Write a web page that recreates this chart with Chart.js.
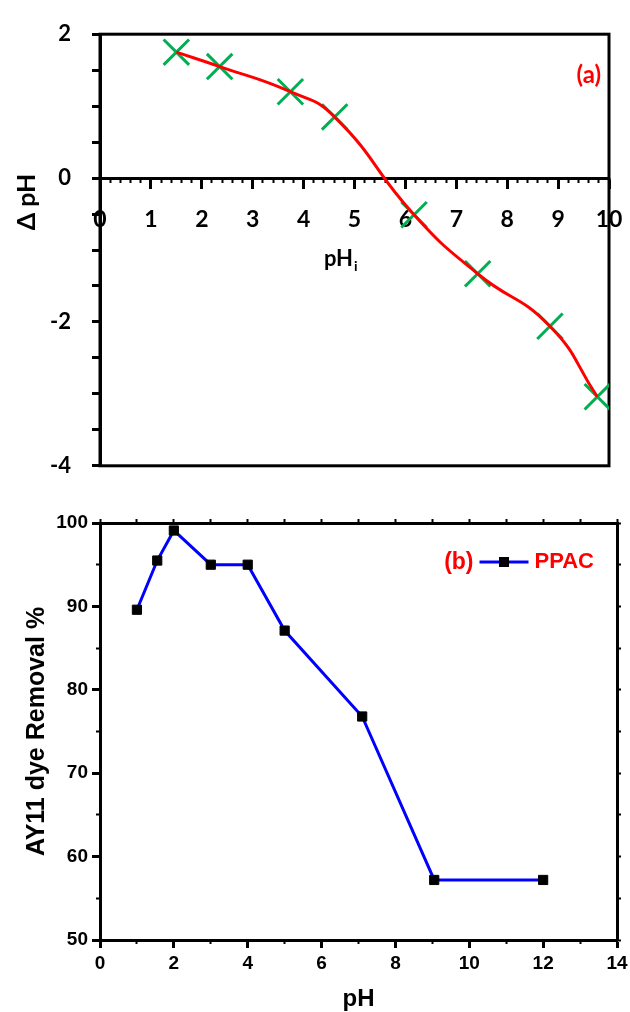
<!DOCTYPE html>
<html>
<head>
<meta charset="utf-8">
<script src="https://cdn.jsdelivr.net/npm/chart.js@4.4.1/dist/chart.umd.min.js"></script>
<style>
  html, body { margin: 0; padding: 0; background: #fff; }
  #wrap { position: relative; width: 630px; height: 1012px; }
  #chartA { position: absolute; left: 0; top: 0; }
  #chartB { position: absolute; left: 0; top: 500px; }
</style>
</head>
<body>
<div id="wrap">
  <canvas id="chartA" width="630" height="500"></canvas>
  <canvas id="chartB" width="630" height="512"></canvas>
</div>
<script>
// panel (a): delta pH against initial pH
const phInitial = [1.5, 2.35, 3.74, 4.61, 6.17, 7.42, 8.84, 9.77];
const deltaPh = [1.75, 1.55, 1.2, 0.85, -0.51, -1.33, -2.06, -3.04];
const deltaPhTickLabels = [2, 0, -2, -4];
const phInitialTickLabels = [0, 1, 2, 3, 4, 5, 6, 7, 8, 9, 10];

// panel (b): dye removal against pH
const phValues = [1, 1.55, 2, 3, 4, 5, 7.1, 9.05, 12];
const removal = [89.6, 95.5, 99.1, 95.0, 95.0, 87.1, 76.8, 57.2, 57.2];
const phTickLabels = [0, 2, 4, 6, 8, 10, 12, 14];
const removalTickLabels = [50, 60, 70, 80, 90, 100];

const fontA = 'Lato, "Open Sans", sans-serif';
const fontB = '"Liberation Sans", Arial, sans-serif';

const pointsA = phInitial.map((x, i) => ({ x: x, y: deltaPh[i] }));
const pointsB = phValues.map((x, i) => ({ x: x, y: removal[i] }));

// keep tick-label overhang from shrinking the plot box
const noSidePadding = s => { s.paddingLeft = 0; s.paddingRight = 0; };

// draws the box, the axis titles and the panel tag of (a)
const panelA = {
  id: 'panelA',
  beforeDatasetsDraw(chart) {
    const { ctx, chartArea: a } = chart;
    ctx.save();
    ctx.lineWidth = 3;
    ctx.strokeStyle = '#000';
    ctx.strokeRect(a.left, a.top, a.right - a.left, a.bottom - a.top);
    ctx.restore();
  },
  afterDraw(chart) {
    const { ctx, chartArea: a, scales } = chart;
    const y0 = scales.y.getPixelForValue(0);
    ctx.save();
    ctx.fillStyle = '#000';
    ctx.font = 'bold 25px ' + fontA;
    ctx.textAlign = 'center';
    ctx.textBaseline = 'middle';
    ctx.translate(27, y0 + 24);
    ctx.rotate(-Math.PI / 2);
    ctx.fillText('Δ pH', 0, 0);
    ctx.restore();

    ctx.save();
    ctx.fillStyle = '#000';
    ctx.textBaseline = 'alphabetic';
    ctx.textAlign = 'left';
    ctx.font = 'bold 22px ' + fontA;
    const w = ctx.measureText('pH').width;
    const tx = (a.left + a.right) / 2 - 13 - w / 2 - 3;
    ctx.fillText('pH', tx, y0 + 88);
    ctx.font = 'bold 14px ' + fontA;
    ctx.fillText('i', tx + w + 1, y0 + 93);
    ctx.restore();

    ctx.save();
    ctx.fillStyle = '#ff0000';
    ctx.font = 'bold 24px ' + fontA;
    ctx.textAlign = 'right';
    ctx.textBaseline = 'middle';
    ctx.fillText('(a)', a.right - 8, a.top + 41);
    ctx.restore();
  }
};

// legend of (b): tag, line sample, marker, series name
const panelB = {
  id: 'panelB',
  afterDraw(chart) {
    const { ctx, chartArea: a } = chart;
    const ds = chart.data.datasets[0];
    const y = a.top + 39;
    ctx.save();
    ctx.font = 'bold 22px ' + fontB;
    ctx.textBaseline = 'middle';
    ctx.textAlign = 'right';
    ctx.fillStyle = '#ff0000';
    const xEnd = a.right - 23;
    ctx.fillText(ds.label, xEnd, y);
    const lineEnd = xEnd - ctx.measureText(ds.label).width - 6;
    const lineStart = lineEnd - 49;
    ctx.strokeStyle = ds.borderColor;
    ctx.lineWidth = ds.borderWidth;
    ctx.beginPath();
    ctx.moveTo(lineStart, y);
    ctx.lineTo(lineEnd, y);
    ctx.stroke();
    ctx.fillStyle = ds.pointBackgroundColor;
    ctx.fillRect((lineStart + lineEnd) / 2 - 5, y - 5, 10, 10);
    ctx.fillStyle = '#ff0000';
    ctx.font = 'bold 23px ' + fontB;
    ctx.fillText('(b)', lineStart - 6, y + 1);
    ctx.restore();
  }
};

function tickAxis(extra) {
  return Object.assign({
    grid: { display: true, drawOnChartArea: false, drawTicks: true, color: '#000', tickWidth: 2 },
    border: { display: false },
    ticks: { display: false }
  }, extra);
}

new Chart(document.getElementById('chartA'), {
  type: 'scatter',
  data: {
    datasets: [
      {
        label: 'fit',
        data: pointsA,
        showLine: true,
        borderColor: '#ff0000',
        borderWidth: 3,
        tension: 0.5,
        pointRadius: 0,
        order: 0
      },
      {
        label: 'ΔpH',
        data: pointsA,
        showLine: false,
        pointStyle: 'crossRot',
        pointRadius: 18,
        pointBorderWidth: 3,
        pointBorderColor: '#00b050',
        pointBackgroundColor: '#00b050',
        order: 1
      }
    ]
  },
  options: {
    responsive: false,
    animation: false,
    events: [],
    layout: { padding: { top: 28, right: 17, bottom: 18, left: 0 } },
    plugins: { legend: { display: false }, tooltip: { enabled: false } },
    scales: {
      x: {
        type: 'linear',
        position: { y: 0 },
        min: 0,
        max: 10,
        afterFit: noSidePadding,
        grid: { drawOnChartArea: false, color: '#000', tickLength: 9, tickWidth: 3 },
        border: { display: true, color: '#000', width: 3 },
        ticks: {
          stepSize: 1,
          autoSkip: false,
          maxRotation: 0,
          padding: 19,
          color: '#000',
          font: { family: fontA, size: 23, weight: 'bold' },
          callback: v => phInitialTickLabels.includes(v) ? String(v) : ''
        }
      },
      xMinor: tickAxis({
        type: 'linear',
        axis: 'x',
        position: { y: 0 },
        min: 0,
        max: 10,
        afterFit: noSidePadding,
        grid: { display: true, drawOnChartArea: false, drawTicks: true, color: '#000', tickLength: 5, tickWidth: 2 },
        ticks: { display: false, stepSize: 0.2 }
      }),
      y: {
        type: 'linear',
        position: 'left',
        min: -4,
        max: 2,
        afterFit: s => { s.width = 100; },
        grid: { drawOnChartArea: false, color: '#000', tickLength: 8, tickWidth: 3 },
        border: { display: true, color: '#000', width: 3 },
        ticks: {
          stepSize: 0.5,
          autoSkip: false,
          padding: 21,
          color: '#000',
          font: { family: fontA, size: 22, weight: 'bold' },
          callback: v => deltaPhTickLabels.includes(v) ? String(v) : ''
        }
      }
    }
  },
  plugins: [panelA]
});

new Chart(document.getElementById('chartB'), {
  type: 'scatter',
  data: {
    datasets: [
      {
        label: 'PPAC',
        data: pointsB,
        showLine: true,
        borderColor: '#0000ff',
        borderWidth: 3,
        tension: 0,
        pointStyle: 'rect',
        pointRadius: 6.5,
        pointBorderWidth: 1,
        pointBorderColor: '#000',
        pointBackgroundColor: '#000'
      }
    ]
  },
  options: {
    responsive: false,
    animation: false,
    events: [],
    layout: { padding: { top: 18, right: 7, bottom: 0, left: 0 } },
    plugins: { legend: { display: false }, tooltip: { enabled: false } },
    scales: {
      x: {
        type: 'linear',
        position: 'bottom',
        min: 0,
        max: 14,
        afterFit: s => { s.height = 72; noSidePadding(s); },
        grid: { drawOnChartArea: false, color: '#000', tickLength: 8, tickWidth: 3 },
        border: { display: true, color: '#000', width: 3 },
        ticks: {
          stepSize: 2,
          autoSkip: false,
          maxRotation: 0,
          padding: 4,
          color: '#000',
          font: { family: fontB, size: 19, weight: 'bold' },
          callback: v => phTickLabels.includes(v) ? String(v) : ''
        },
        title: {
          display: true,
          text: 'pH',
          color: '#000',
          font: { family: fontB, size: 24, weight: 'bold', lineHeight: 1 },
          padding: { top: 0, bottom: 1 }
        }
      },
      xMinor: tickAxis({
        type: 'linear',
        axis: 'x',
        position: { y: 50 },
        min: 0,
        max: 14,
        afterFit: noSidePadding,
        grid: { display: true, drawOnChartArea: false, drawTicks: true, color: '#000', tickLength: 4, tickWidth: 2 },
        ticks: { display: false, stepSize: 1 }
      }),
      xTop: tickAxis({
        type: 'linear',
        axis: 'x',
        position: 'top',
        min: 0,
        max: 14,
        afterFit: s => { s.height = 5; noSidePadding(s); },
        grid: { display: true, drawOnChartArea: false, drawTicks: true, color: '#000', tickLength: 4, tickWidth: 2 },
        border: { display: true, color: '#000', width: 3 },
        ticks: { display: false, stepSize: 1 }
      }),
      y: {
        type: 'linear',
        position: 'left',
        min: 50,
        max: 100,
        afterFit: s => { s.width = 100; },
        grid: { drawOnChartArea: false, color: '#000', tickLength: 8, tickWidth: 3 },
        border: { display: true, color: '#000', width: 3 },
        ticks: {
          stepSize: 10,
          autoSkip: false,
          padding: 4,
          color: '#000',
          font: { family: fontB, size: 19, weight: 'bold' },
          callback: v => removalTickLabels.includes(v) ? String(v) : ''
        },
        title: {
          display: true,
          text: 'AY11 dye Removal %',
          color: '#000',
          font: { family: fontB, size: 25, weight: 'bold', lineHeight: 1 },
          padding: { top: 25, bottom: 0 }
        }
      },
      yMinor: tickAxis({
        type: 'linear',
        axis: 'y',
        position: { x: 0 },
        min: 50,
        max: 100,
        grid: { display: true, drawOnChartArea: false, drawTicks: true, color: '#000', tickLength: 4, tickWidth: 2 },
        ticks: { display: false, stepSize: 5 }
      }),
      yRight: tickAxis({
        type: 'linear',
        axis: 'y',
        position: 'right',
        min: 50,
        max: 100,
        afterFit: s => { s.width = 6; },
        grid: { display: true, drawOnChartArea: false, drawTicks: true, color: '#000', tickLength: 4, tickWidth: 2 },
        border: { display: true, color: '#000', width: 3 },
        ticks: { display: false, stepSize: 5 }
      })
    }
  },
  plugins: [panelB]
});
</script>
</body>
</html>
